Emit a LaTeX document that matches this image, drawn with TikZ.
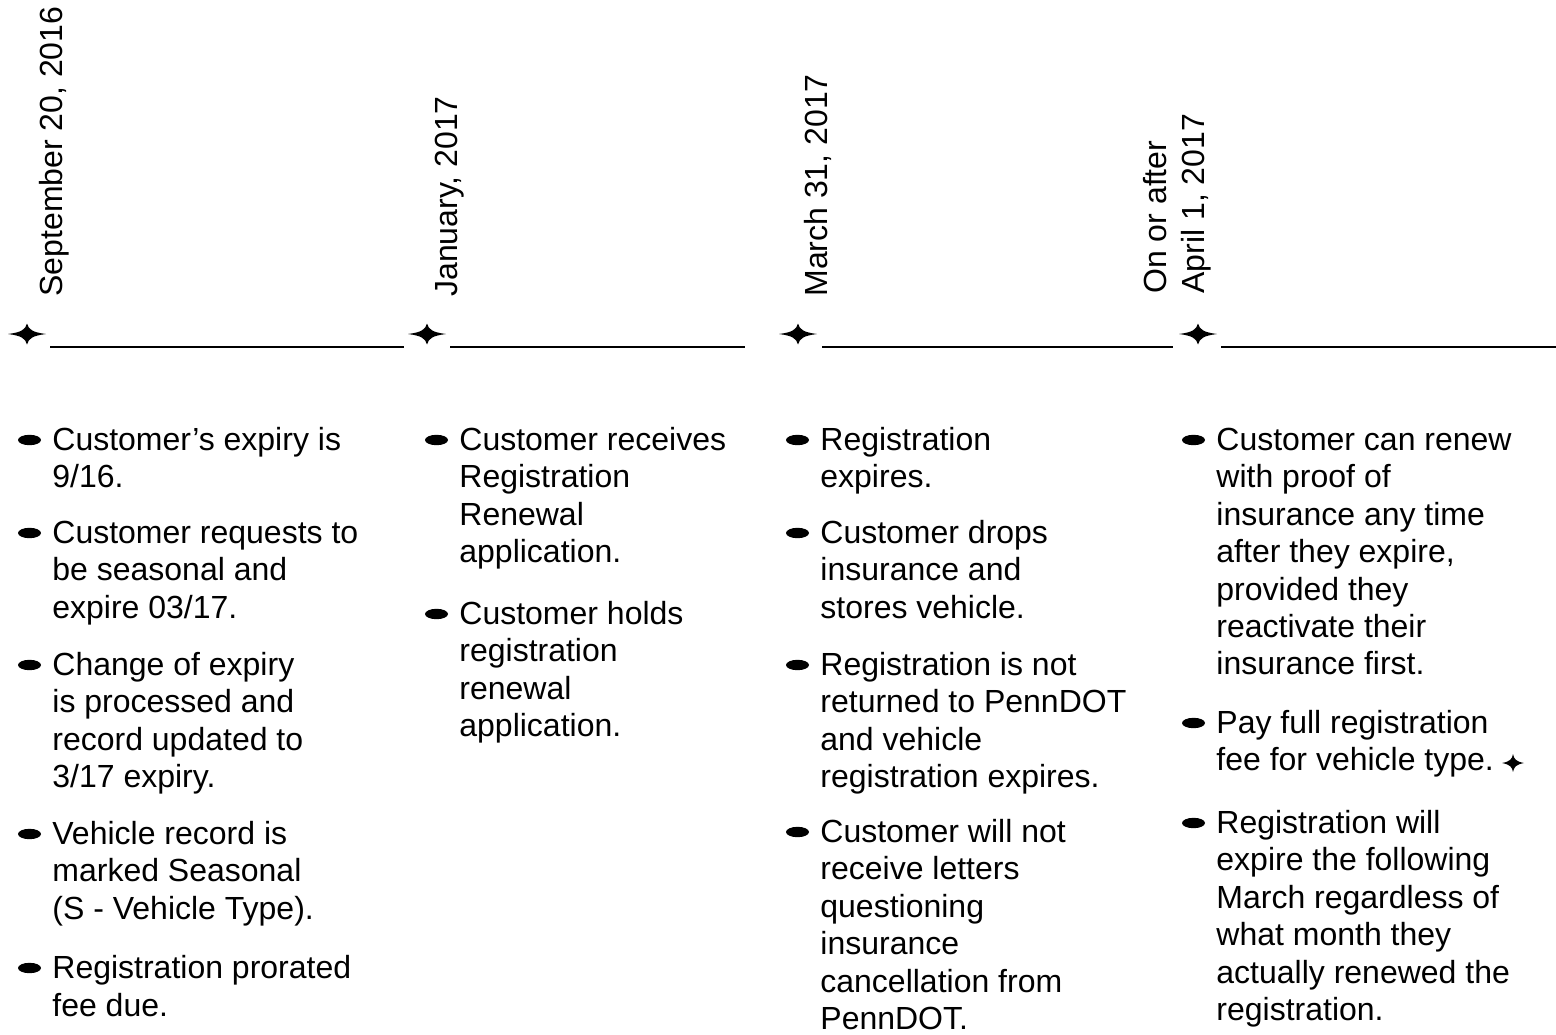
\documentclass[tikz,border=0pt]{standalone}
\usepackage{fontspec}
\setmainfont{Liberation Sans}
\tikzset{>=stealth}
\tikzset{
  sparkle/.pic={\fill (-19,0) .. controls (-5,-1.8) and (-1.8,-4.5) .. (0,-10.5)
    .. controls (1.8,-4.5) and (5,-1.8) .. (19,0)
    .. controls (5,1.8) and (1.8,4.5) .. (0,10.5)
    .. controls (-1.8,4.5) and (-5,1.8) .. (-19,0) -- cycle;},
  itemtext/.style={anchor=north west,inner sep=0pt,align=left,font=\fontsize{16}{18.7}\selectfont},
  datetext/.style={itemtext,rotate=90},
}
\newcommand{\itemdot}[1]{\fill (#1.north west) ++(-22.5,16) ellipse[x radius=11.5,y radius=5.2];}

\begin{document}
\begin{tikzpicture}[x=0.5pt,y=-0.5pt]
\useasboundingbox (0,0) rectangle (1556,1034);
% dates
\node[datetext] (sep) at (36,297) {\strut September 20, 2016};
\node[datetext] (jan) at (431,297) {\strut January, 2017};
\node[datetext] (mar) at (801,297) {\strut March 31, 2017};
\node[datetext] (apr) at (1140,294) {\strut On or after\\April 1, 2017};
% time line
\pic at (27,334) {sparkle};
\pic at (427,334) {sparkle};
\pic at (798,334) {sparkle};
\pic at (1198,334) {sparkle};
\draw[line width=1pt] (50,347) -- (404,347);
\draw[line width=1pt] (450,347) -- (745,347);
\draw[line width=1pt] (822,347) -- (1173,347);
\draw[line width=1pt] (1221,347) -- (1556,347);
% September
\node[itemtext] (a1) at (52,424) {\strut Customer’s expiry is\\9/16.};
\node[itemtext] (a2) at (52,517) {\strut Customer requests to\\be seasonal and\\expire 03/17.};
\node[itemtext] (a3) at (52,649) {\strut Change of expiry\\is processed and\\record updated to\\3/17 expiry.};
\node[itemtext] (a4) at (52,818) {\strut Vehicle record is\\marked Seasonal\\(S - Vehicle Type).};
\node[itemtext] (a5) at (52,952) {\strut Registration prorated\\fee due.};
\itemdot{a1} \itemdot{a2} \itemdot{a3} \itemdot{a4} \itemdot{a5}
% January
\node[itemtext] (b1) at (459,424) {\strut Customer receives\\Registration\\Renewal\\application.};
\node[itemtext] (b2) at (459,598) {\strut Customer holds\\registration\\renewal\\application.};
\itemdot{b1} \itemdot{b2}
% March
\node[itemtext] (c1) at (820,424) {\strut Registration\\expires.};
\node[itemtext] (c2) at (820,517) {\strut Customer drops\\insurance and\\stores vehicle.};
\node[itemtext] (c3) at (820,649) {\strut Registration is not\\returned to PennDOT\\and vehicle\\registration expires.};
\node[itemtext] (c4) at (820,816) {\strut Customer will not\\receive letters\\questioning\\insurance\\cancellation from\\PennDOT.};
\itemdot{c1} \itemdot{c2} \itemdot{c3} \itemdot{c4}
% April
\node[itemtext] (d1) at (1216,424) {\strut Customer can renew\\with proof of\\insurance any time\\after they expire,\\provided they\\reactivate their\\insurance first.};
\node[itemtext] (d2) at (1216,707) {\strut Pay full registration\\fee for vehicle type.};
\node[itemtext] (d3) at (1216,807) {\strut Registration will\\expire the following\\March regardless of\\what month they\\actually renewed the\\registration.};
\itemdot{d1} \itemdot{d2} \itemdot{d3}
\pic[xscale=.58,yscale=.85] at (1513,763) {sparkle};
\end{tikzpicture}
\end{document}
